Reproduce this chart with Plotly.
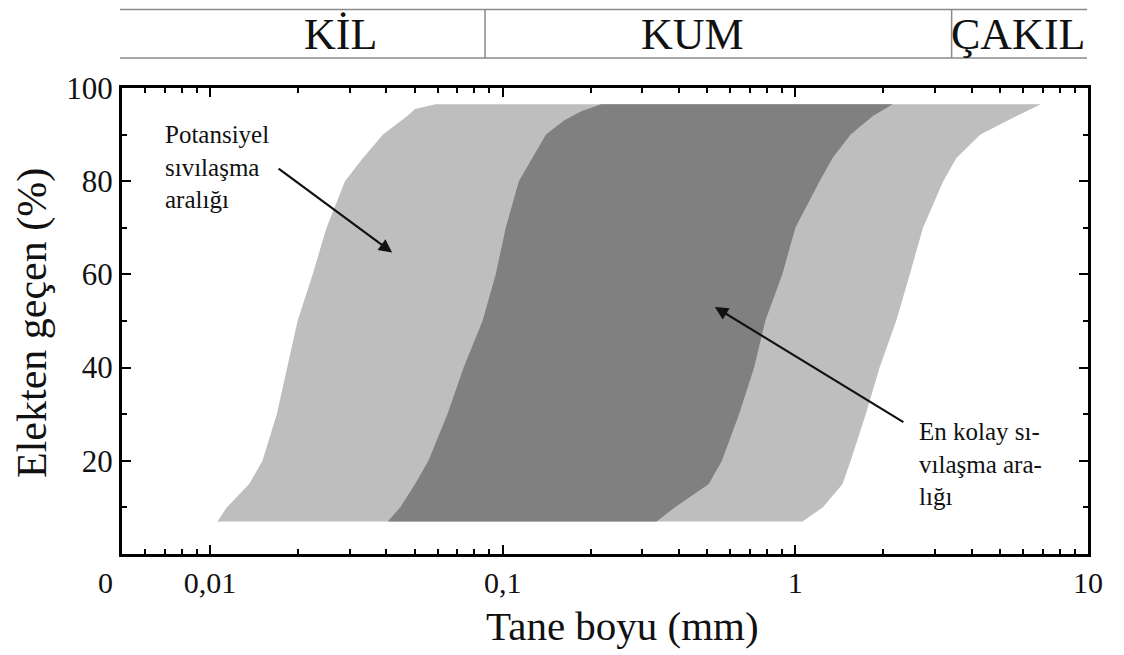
import numpy as np
import plotly.graph_objects as go

# ---- data (grain size in mm, percent passing) ----
outer_left_pct = [7, 10, 15, 20, 30, 40, 50, 60, 70, 80, 85, 90, 94, 95.5, 96.5]
outer_left_mm = [0.0106, 0.0114, 0.0136, 0.0151, 0.0169, 0.0183, 0.0199, 0.0224,
                 0.0250, 0.0289, 0.0333, 0.0390, 0.0472, 0.0502, 0.0589]
outer_right_pct = [96.5, 94, 90, 85, 80, 70, 60, 50, 40, 30, 20, 15, 10, 7]
outer_right_mm = [6.90, 5.70, 4.29, 3.55, 3.20, 2.73, 2.46, 2.21, 1.94, 1.74,
                  1.545, 1.45, 1.24, 1.057]

inner_left_pct = [7, 10, 15, 20, 30, 40, 50, 60, 70, 80, 90, 93, 95, 96.5]
inner_left_mm = [0.0405, 0.0446, 0.0502, 0.0557, 0.0647, 0.0735, 0.0853, 0.0946,
                 0.1024, 0.1135, 0.1405, 0.162, 0.1854, 0.2172]
inner_right_pct = [96.5, 94, 90, 85, 80, 70, 60, 50, 40, 30, 20, 15, 10, 7]
inner_right_mm = [2.15, 1.84, 1.545, 1.34, 1.21, 1.00, 0.902, 0.789, 0.723, 0.642,
                  0.561, 0.506, 0.387, 0.3356]

x_tick_vals = [0.01, 0.1, 1, 10]
x_tick_text = ["0,01", "0,1", "1", "10"]
y_tick_vals = [20, 40, 60, 80, 100]
y_tick_text = ["20", "40", "60", "80", "100"]

soil_classes = ["KİL", "KUM", "ÇAKIL"]
soil_label_mm = [0.028, 0.445, 5.77]
soil_divider_mm = [0.087, 3.42]

FONT = "Liberation Serif, Times New Roman, serif"

# page offset (body margin 8px) -> figure size so plot lands where the reference has it
W, H = 1116, 647
PL, PR, PT, PB = 114, 1080, 80, 546  # plot area in figure pixels
PW, PH = PR - PL, PB - PT


def px_x(page_x):
    return (page_x - 8 - PL) / PW


def px_y(page_y):
    return (PB - (page_y - 8)) / PH


fig = go.Figure()
fig.add_trace(go.Scatter(
    x=outer_left_mm + outer_right_mm, y=outer_left_pct + outer_right_pct,
    fill="toself", fillcolor="#bebebe", mode="lines", line=dict(width=0),
    hoverinfo="skip", showlegend=False))
fig.add_trace(go.Scatter(
    x=inner_left_mm + inner_right_mm, y=inner_left_pct + inner_right_pct,
    fill="toself", fillcolor="#808080", mode="lines", line=dict(width=0),
    hoverinfo="skip", showlegend=False))

minor_x = []
for dec in [0.001, 0.01, 0.1, 1]:
    for k in range(2, 10):
        v = k * dec
        if 0.005 <= v <= 10:
            minor_x.append(v)

fig.update_xaxes(
    type="log", range=[np.log10(0.005), 1], showgrid=False, zeroline=False,
    showline=True, linewidth=3, linecolor="black", mirror="allticks",
    ticks="inside", ticklen=9, tickwidth=2, tickcolor="black",
    tickvals=x_tick_vals, ticktext=x_tick_text, ticklabelstandoff=0,
    tickfont=dict(family=FONT, size=30, color="#111"),
    minor=dict(ticks="inside", ticklen=5, tickwidth=2, tickcolor="black",
               tickvals=minor_x, showgrid=False),
)
fig.update_yaxes(
    range=[0, 100], showgrid=False, zeroline=False,
    showline=True, linewidth=3, linecolor="black", mirror="allticks",
    ticks="inside", ticklen=9, tickwidth=2, tickcolor="black",
    tickvals=y_tick_vals, ticktext=y_tick_text, ticklabelstandoff=0,
    tickfont=dict(family=FONT, size=31, color="#111"),
    minor=dict(ticks="inside", ticklen=5, tickwidth=2, tickcolor="black",
               tickvals=[10, 30, 50, 70, 90], showgrid=False),
)

shapes = []
# header band lines
for page_y in [9.5, 58]:
    shapes.append(dict(type="line", xref="paper", yref="paper", x0=px_x(120), x1=px_x(1087),
                       y0=px_y(page_y), y1=px_y(page_y), line=dict(color="#8a8a8a", width=1.5)))
for d in soil_divider_mm:
    shapes.append(dict(type="line", xref="x", yref="paper", x0=d, x1=d,
                       y0=px_y(58), y1=px_y(9.5), line=dict(color="#8a8a8a", width=1.5)))

annotations = []
for name, xm in zip(soil_classes, soil_label_mm):
    annotations.append(dict(x=np.log10(xm), y=px_y(34), xref="x", yref="paper", text=name,
                            showarrow=False, xanchor="center", yanchor="middle",
                            font=dict(family=FONT, size=44, color="#111")))

# axis titles
annotations.append(dict(x=px_x(622), y=px_y(626), xref="paper", yref="paper",
                        text="Tane boyu (mm)", showarrow=False, xanchor="center", yanchor="middle",
                        font=dict(family=FONT, size=41, color="#111")))
annotations.append(dict(x=px_x(32), y=px_y(323), xref="paper", yref="paper",
                        text="Elekten geçen (%)", showarrow=False, textangle=-90,
                        xanchor="center", yanchor="middle",
                        font=dict(family=FONT, size=42, color="#111")))
# origin "0"
annotations.append(dict(x=px_x(105), y=px_y(582), xref="paper", yref="paper",
                        text="0", showarrow=False, xanchor="center", yanchor="middle",
                        font=dict(family=FONT, size=30, color="#111")))

# callout texts
annotations.append(dict(x=-2.16, y=83, xref="x", yref="y",
                        text="Potansiyel<br>sıvılaşma<br>aralığı", showarrow=False,
                        xanchor="left", yanchor="middle", align="left",
                        font=dict(family=FONT, size=25, color="#111")))
annotations.append(dict(x=0.415, y=19.4, xref="x", yref="y",
                        text="En kolay sı-<br>vılaşma ara-<br>lığı", showarrow=False,
                        xanchor="left", yanchor="middle", align="left",
                        font=dict(family=FONT, size=25, color="#111")))
# arrows
annotations.append(dict(x=-1.378, y=64.7, xref="x", yref="y", text="", showarrow=True,
                        ax=-115, ay=-85, arrowhead=2, arrowsize=1.2, arrowwidth=2.2,
                        arrowcolor="#111"))
annotations.append(dict(x=-0.275, y=53, xref="x", yref="y", text="", showarrow=True,
                        ax=190, ay=116, arrowhead=2, arrowsize=1.2, arrowwidth=2.2,
                        arrowcolor="#111"))

fig.update_layout(
    width=W, height=H,
    margin=dict(l=PL, r=W - PR, t=PT, b=H - PB, autoexpand=False),
    paper_bgcolor="white", plot_bgcolor="white",
    shapes=shapes, annotations=annotations,
    showlegend=False,
)

fig.write_html("out.html")
